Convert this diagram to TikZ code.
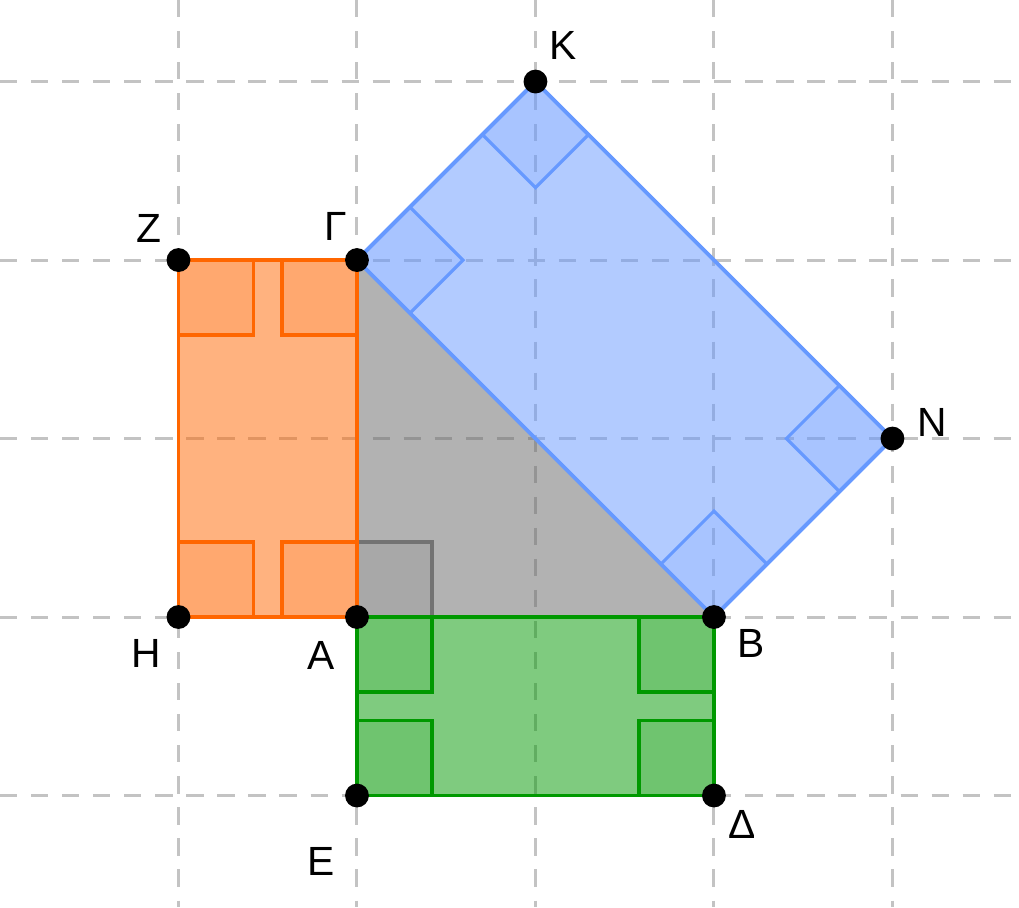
\documentclass[tikz,border=0pt]{standalone}
\usepackage{fontspec}
\setmainfont{Liberation Sans}
\definecolor{ggorange}{RGB}{255,102,0}
\definecolor{ggblue}{RGB}{102,153,255}
\definecolor{gggreen}{RGB}{0,153,0}
\definecolor{gggray}{RGB}{102,102,102}
\definecolor{gridgray}{RGB}{195,195,195}
\tikzset{
  gridline/.style={draw=gridgray, line width=0.95pt, dash pattern=on 5.5pt off 4.4pt},
  orangerect/.style={fill=ggorange, fill opacity=0.5, draw=ggorange, draw opacity=1, line width=1.15pt, line join=round},
  orangemark/.style={fill=ggorange, fill opacity=0.12, draw=ggorange, draw opacity=1, line width=1.0pt},
  greenrect/.style={fill=gggreen, fill opacity=0.5, draw=gggreen, draw opacity=1, line width=1.15pt, line join=round},
  greenmark/.style={fill=gggreen, fill opacity=0.12, draw=gggreen, draw opacity=1, line width=1.0pt},
  bluerect/.style={fill=ggblue, fill opacity=0.5, draw=ggblue, draw opacity=1, line width=1.15pt, line join=round},
  bluemark/.style={fill=ggblue, fill opacity=0.12, draw=ggblue, draw opacity=1, line width=1.0pt},
  graytri/.style={fill=gggray, fill opacity=0.5},
  graymark/.style={fill=gggray, fill opacity=0.12, draw=gray!90!black, draw opacity=1, line width=1.0pt},
  pt/.style={circle, fill=black, inner sep=0pt, minimum size=7.6pt},
  lbl/.style={font=\fontsize{13}{15}\selectfont, inner sep=0pt}
}
\begin{document}
\begin{tikzpicture}[x=2cm,y=2cm]
\useasboundingbox (-2,-1.625) rectangle (3.709,3.457);
\fill[white] (-2,-1.625) rectangle (3.709,3.457);
% grid
\foreach \x in {-1,0,1,2,3} \draw[gridline] (\x,3.457) -- (\x,-1.625);
\foreach \y in {-1,0,1,2,3} \draw[gridline] (-2,\y) -- (3.709,\y);
% points
\coordinate (A) at (0,0);
\coordinate (B) at (2,0);
\coordinate (G) at (0,2);
\coordinate (Z) at (-1,2);
\coordinate (H) at (-1,0);
\coordinate (E) at (0,-1);
\coordinate (D) at (2,-1);
\coordinate (K) at (1,3);
\coordinate (N) at (3,1);
\def\m{0.42}
\def\d{0.297}
% triangle
\fill[graytri] (A) -- (B) -- (G) -- cycle;
\filldraw[graymark] (A) rectangle ++(\m,\m);
% orange rectangle
\filldraw[orangerect] (Z) -- (G) -- (A) -- (H) -- cycle;
\filldraw[orangemark] (Z) rectangle ++(\m,-\m);
\filldraw[orangemark] (G) rectangle ++(-\m,-\m);
\filldraw[orangemark] (H) rectangle ++(\m,\m);
\filldraw[orangemark] (A) rectangle ++(-\m,\m);
\draw[ggorange, line width=1.15pt, line join=round] (Z) -- (G) -- (A) -- (H) -- cycle;
% green rectangle
\filldraw[greenrect] (A) -- (B) -- (D) -- (E) -- cycle;
\filldraw[greenmark] (A) rectangle ++(\m,-\m);
\filldraw[greenmark] (B) rectangle ++(-\m,-\m);
\filldraw[greenmark] (D) rectangle ++(-\m,\m);
\filldraw[greenmark] (E) rectangle ++(\m,\m);
\draw[gggreen, line width=1.15pt, line join=round] (A) -- (B) -- (D) -- (E) -- cycle;
% blue square
\filldraw[bluerect] (G) -- (K) -- (N) -- (B) -- cycle;
\filldraw[bluemark] (G) -- ++(\d,\d) -- ++(\d,-\d) -- ++(-\d,-\d) -- cycle;
\filldraw[bluemark] (K) -- ++(-\d,-\d) -- ++(\d,-\d) -- ++(\d,\d) -- cycle;
\filldraw[bluemark] (N) -- ++(-\d,\d) -- ++(-\d,-\d) -- ++(\d,-\d) -- cycle;
\filldraw[bluemark] (B) -- ++(-\d,\d) -- ++(\d,\d) -- ++(\d,-\d) -- cycle;
\draw[ggblue, line width=1.15pt, line join=round] (G) -- (K) -- (N) -- (B) -- cycle;
% dots
\foreach \p in {A,B,G,Z,H,E,D,K,N} \node[pt] (dot\p) at (\p) {};
% labels
\node[lbl] (lK) at (1.154,3.204) {K};
\node[lbl] (lZ) at (-1.165,2.179) {Z};
\node[lbl] (lG) at (-0.118,2.190) {Γ};
\node[lbl] (lN) at (3.221,1.092) {N};
\node[lbl] (lH) at (-1.182,-0.202) {H};
\node[lbl] (lA) at (-0.202,-0.213) {A};
\node[lbl] (lB) at (2.207,-0.146) {B};
\node[lbl] (lE) at (-0.202,-1.367) {E};
\node[lbl] (lD) at (2.157,-1.160) {Δ};
\end{tikzpicture}
\end{document}
